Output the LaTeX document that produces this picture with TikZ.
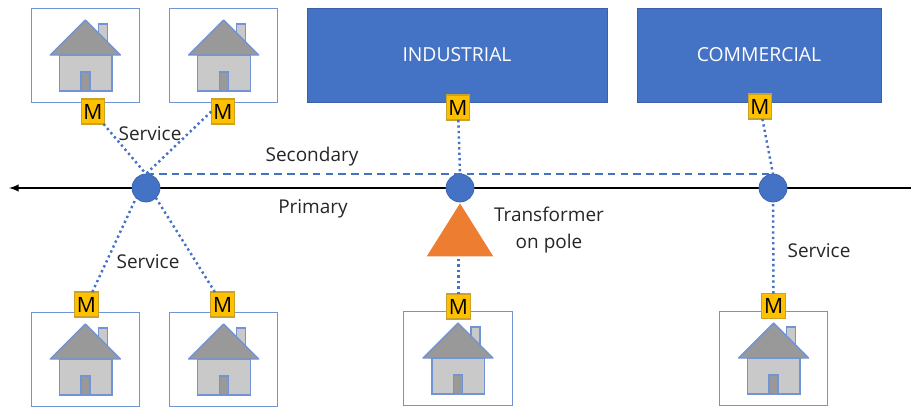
\documentclass[tikz,border=0pt]{standalone}
\usepackage{fontspec}
\setmainfont{Open Sans}
\usepackage{xcolor}
\usetikzlibrary{shapes.geometric}
\definecolor{lineblue}{HTML}{4472C4}
\definecolor{edgeblue}{HTML}{7094D6}
\definecolor{meteryellow}{HTML}{FFC000}
\definecolor{meteredge}{HTML}{C9A227}
\definecolor{poleorange}{HTML}{ED7D31}
\definecolor{roofgray}{HTML}{999999}
\definecolor{wallgray}{HTML}{C9C9C9}
\tikzset{
  housebox/.style={draw=edgeblue,line width=0.55pt,minimum width=2.17cm,minimum height=1.88cm,inner sep=0,outer sep=0},
  loadbox/.style={draw=lineblue!85!black,fill=lineblue,text=white,minimum height=1.88cm,inner sep=0,outer sep=0,font=\fontsize{11}{12}\selectfont},
  meter/.style={draw=meteredge,fill=meteryellow,line width=0.6pt,minimum width=0.47cm,minimum height=0.5cm,inner sep=0,outer sep=0,font=\fontsize{12}{12}\selectfont},
  pole/.style={circle,draw=lineblue!85!black,fill=lineblue,minimum size=0.56cm,inner sep=0,outer sep=0},
  service/.style={lineblue,line width=1.4pt,dash pattern=on 1.3pt off 1.8pt},
  secondary/.style={lineblue,line width=0.9pt,dash pattern=on 4.4pt off 2.9pt},
  label/.style={inner sep=0,font=\fontsize{10.8}{15.3}\selectfont,text=black!85},
  housepart/.style={draw=edgeblue,line width=0.8pt},
  house/.pic={
    \draw[housepart,fill=wallgray] (13,-10) rectangle (22,-31);
    \draw[housepart,fill=wallgray] (-26,0) rectangle (26.5,36);
    \draw[housepart,fill=roofgray] (-4.5,36) rectangle (4.5,17);
    \draw[housepart,fill=roofgray,line join=round] (-35,0) -- (0,-35) -- (35,0) -- cycle;
  }
}
\begin{document}
\begin{tikzpicture}[x=0.02cm,y=-0.02cm]
  \useasboundingbox (0,0) rectangle (911,406);
  \coordinate (primarystart) at (911,188);
  \coordinate (primaryend) at (9,188);
  \draw[-latex,line width=0.9pt] (primarystart) -- (primaryend);

  \foreach \boxname/\x/\y in {h1/85.3/55,h2/223.7/55,h3/85.3/359,h4/223.7/359,h5/458/358,h6/773.5/358} {
    \node[housebox] (\boxname) at (\x,\y) {};
    \pic at (\boxname) {house};
  }

  \node[loadbox,minimum width=6cm] (industrial) at (457,55) {INDUSTRIAL};
  \node[loadbox,minimum width=4.88cm] (commercial) at (759,55) {COMMERCIAL};

  \node[pole] (pole1) at (146,188) {};
  \node[pole] (pole2) at (460,188) {};
  \node[pole] (pole3) at (773,188) {};
  \node[isosceles triangle,isosceles triangle stretches,shape border rotate=90,fill=poleorange,minimum width=1.33cm,minimum height=1.06cm,inner sep=0,outer sep=0] (xfmr) at (460,238) {};

  \node[meter] (m1) at (93,111.5) {M};
  \node[meter] (m2) at (223,111.5) {M};
  \node[meter] (m3) at (86.5,304.5) {M};
  \node[meter] (m4) at (222.7,304.5) {M};
  \node[meter] (m5) at (458,107.5) {M};
  \node[meter] (m6) at (458.5,306.5) {M};
  \node[meter] (m7) at (760,106.5) {M};
  \node[meter] (m8) at (773.5,306) {M};

  \draw[service] (m1) -- (pole1.north);
  \draw[service] (m2.west) -- (pole1.north);
  \draw[service] (m3) -- (pole1.south west);
  \draw[service] (m4) -- (pole1.south east);
  \draw[service] (m5) -- (pole2.north);
  \draw[service] (m6) -- (m6 |- xfmr.south);
  \draw[service] (m7) -- (pole3.north);
  \draw[service] (m8) -- (pole3);
  \draw[secondary] (pole1.north) -- (pole3.north);

  \node[label] (service1) at (150,134) {Service};
  \node[label] (service2) at (148,262) {Service};
  \node[label] (service3) at (819,251) {Service};
  \node[label] (secondarytext) at (312,156.5) {Secondary};
  \node[label] (primarytext) at (313,208.5) {Primary};
  \node[label,align=center] (xfmrtext) at (549,230) {Transformer\\on pole};
\end{tikzpicture}
\end{document}
